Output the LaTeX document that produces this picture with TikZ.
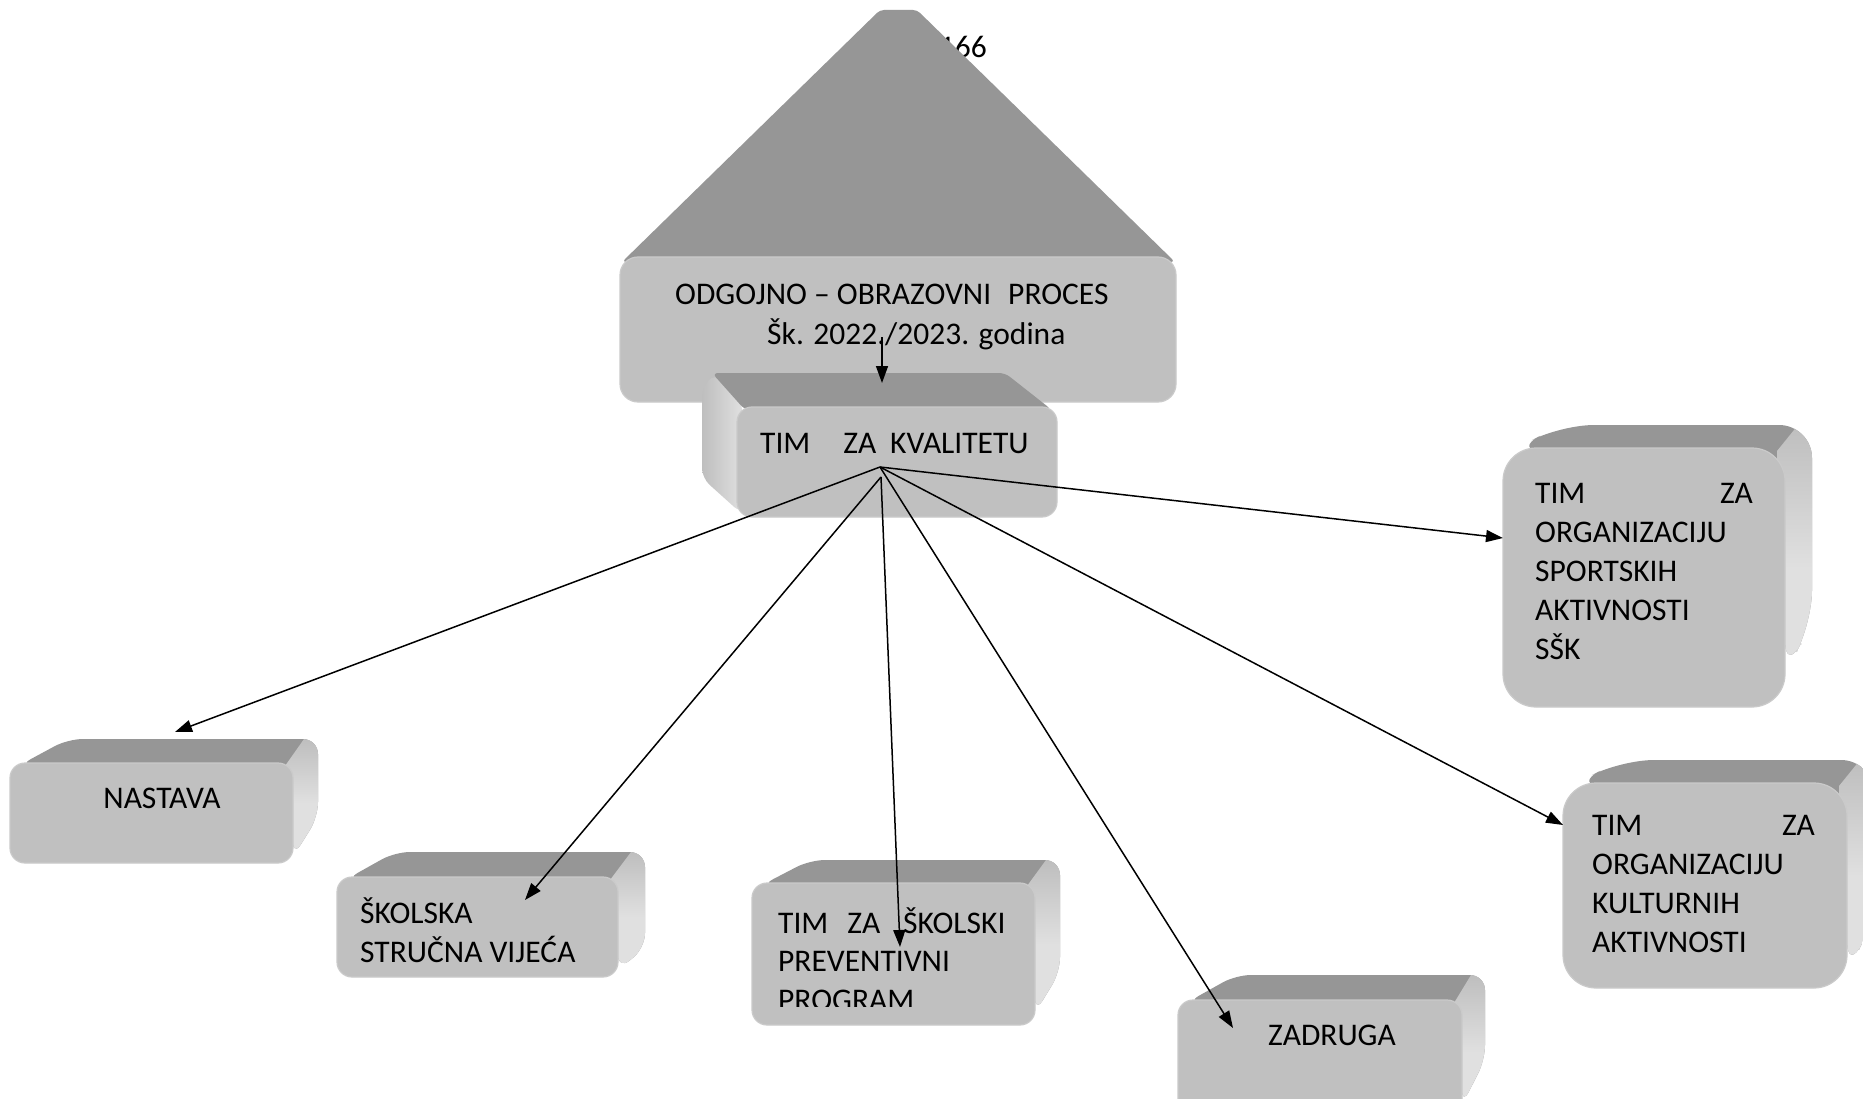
\documentclass[tikz,border=0pt]{standalone}
\usepackage{fontspec}
\setmainfont{Carlito}
\usetikzlibrary{arrows.meta}
\definecolor{frontc}{HTML}{C0C0C0}
\definecolor{frontedge}{HTML}{CACACA}
\definecolor{topc}{HTML}{969696}
\definecolor{sidec}{HTML}{E0E0E0}
\definecolor{sidedk}{HTML}{BEBEBE}
\tikzset{
  lbl/.style={inner sep=0pt, anchor=base west, font=\fontsize{31.5}{39}\selectfont},
  lblc/.style={lbl, anchor=base},
  lble/.style={lbl, anchor=base east},
  arr/.style={draw=black, line width=1.5pt, -{Triangle[length=17pt,width=12pt]}},
  frontface/.style={fill=frontc, draw=frontedge, line width=1.2pt},
}
% #1 x1, #2 y1, #3 x2, #4 y2, #5 dx, #6 dy, #7 radius, #8 side bottom y (back), #9 side bottom y (front)
\newcommand\threeDbox[9]{%
  \begin{scope}
    \clip[rounded corners=#7pt]
      (#1+8,#2+3) -- (#1+58,#2-#6) -- (#3+#5,#2-#6) -- (#3+#5,#8) -- (#3,#9) -- (#3,#2+3) -- cycle;
    \fill[topc] (#1,#2-#6-5) rectangle (#3+#5+5,#4+5);
    \shade[top color=sidedk, bottom color=sidec, middle color=sidec]
      (#3-8,#2+3) -- (#3+#5-14,#2-#6) -- (#3+#5+5,#2-#6) -- (#3+#5+5,#4+5) -- (#3-8,#4+5) -- cycle;
  \end{scope}
  \path[frontface, rounded corners=#7pt] (#1,#2) rectangle (#3,#4);
}
\begin{document}
\begin{tikzpicture}[x=1pt,y=-1pt]
\useasboundingbox (0,0) rectangle (1863,1099);
\fill[white] (0,0) rectangle (1863,1099);
\clip (0,0) rectangle (1863,1099);

% page number behind the roof
\node[lble] (pagenum) at (987,58) {166};

% top: roof + box
\fill[topc, rounded corners=4pt] (622,262) -- (880,10) -- (917,10) -- (1175,262) -- cycle;
\path[frontface, rounded corners=18pt] (620,257) rectangle (1176,402);
\node[lbl] (proc1) at (675,305) {ODGOJNO – OBRAZOVNI\hspace{17pt}PROCES};
\node[lbl] (proc2) at (767,344) {Šk. 2022./2023. godina};

% TIM ZA KVALITETU (extruded up-left)
\shade[left color=sidedk, right color=sidec, rounded corners=10pt]
  (742,400) -- (715,373) -- (702,388) -- (702,478) -- (742,514) -- cycle;
\fill[topc, rounded corners=6pt] (745,410) -- (712,373) -- (1005,373) -- (1052,410) -- cycle;
\path[frontface, rounded corners=15pt] (737,407) rectangle (1057,517);
\node[lbl] (kval) at (760,453) {TIM\hspace{33pt}ZA\hspace{14pt}KVALITETU};

% NASTAVA
\threeDbox{10}{763}{293}{863}{25}{24}{15}{817}{857}
\node[lblc] (nastava) at (162,808) {NASTAVA};

% ŠKOLSKA STRUČNA VIJEĆA
\threeDbox{337}{877}{618}{977}{27}{25}{15}{948}{970}
\node[lbl] (skol1) at (360,923) {ŠKOLSKA};
\node[lbl] (skol2) at (360,962) {STRUČNA VIJEĆA};

% TIM ZA ŠKOLSKI PREVENTIVNI PROGRAM
\threeDbox{752}{883}{1035}{1025}{25}{23}{15}{972}{1013}
\node[lbl] (prev1) at (778,933) {TIM\hspace{19pt}ZA\hspace{23pt}ŠKOLSKI};
\node[lbl] (prev2) at (778,971) {PREVENTIVNI};
\begin{scope}
  \clip (752,883) rectangle (1035,1006);
  \node[lbl] (prev3) at (778,1010) {PROGRAM};
\end{scope}

% ZADRUGA
\threeDbox{1178}{1000}{1462}{1125}{23}{25}{15}{1060}{1105}
\node[lblc] (zadruga) at (1332,1045) {ZADRUGA};

% SPORTSKIH
\threeDbox{1503}{448}{1785}{707}{27}{23}{33}{623}{673}
\node[lbl] (sp1a) at (1535,503) {TIM};
\node[lble] (sp1b) at (1753,503) {ZA};
\node[lbl] (sp2) at (1535,542) {ORGANIZACIJU};
\node[lbl] (sp3) at (1535,581) {SPORTSKIH};
\node[lbl] (sp4) at (1535,620) {AKTIVNOSTI};
\node[lbl] (sp5) at (1535,659) {SŠK};

% KULTURNIH
\threeDbox{1563}{783}{1847}{988}{27}{23}{33}{920}{973}
\node[lbl] (ku1a) at (1592,835) {TIM};
\node[lble] (ku1b) at (1815,835) {ZA};
\node[lbl] (ku2) at (1592,874) {ORGANIZACIJU};
\node[lbl] (ku3) at (1592,913) {KULTURNIH};
\node[lbl] (ku4) at (1592,952) {AKTIVNOSTI};

% connectors
\coordinate (topA) at (882,337);
\coordinate (topB) at (882,383);
\coordinate (src) at (880,467);
\coordinate (src2) at (881,477);
\coordinate (tNastava) at (175,732);
\coordinate (tSkol) at (525,900);
\coordinate (tPrev) at (900,947);
\coordinate (tZadruga) at (1233,1028);
\coordinate (tSport) at (1503,538);
\coordinate (tKult) at (1563,825);

\draw[arr] (topA) -- (topB);
\draw[arr] (src) -- (tNastava);
\draw[arr] (src2) -- (tSkol);
\draw[arr] (src2) -- (tPrev);
\draw[arr] (src) -- (tZadruga);
\draw[arr] (src) -- (tSport);
\draw[arr] (src) -- (tKult);
\end{tikzpicture}
\end{document}
